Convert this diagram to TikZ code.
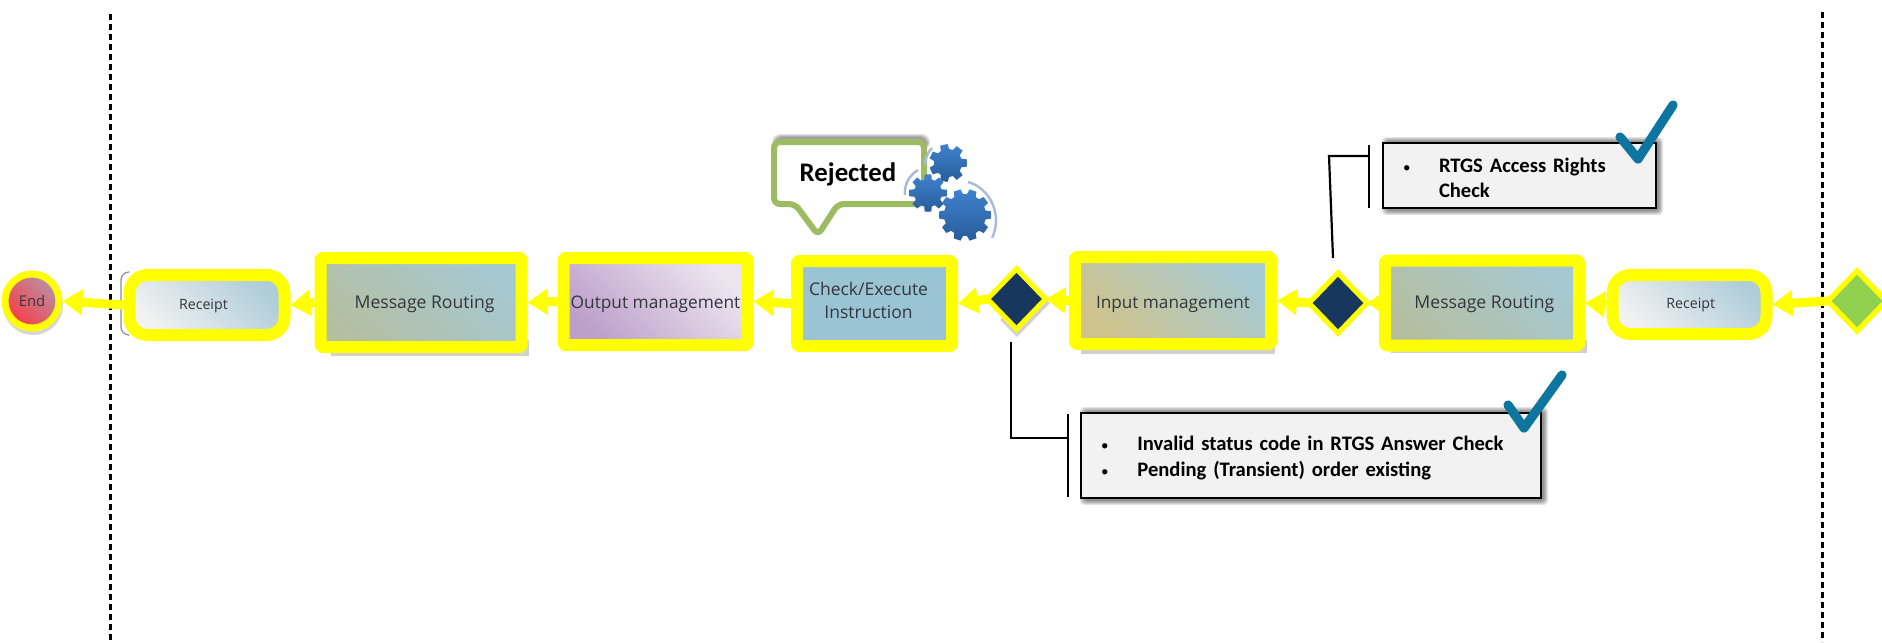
\documentclass[tikz,border=0pt]{standalone}
\usepackage{fontspec}
\setmainfont{Open Sans}
\newfontfamily\carl{Carlito}[BoldFont=Carlito Bold]
\usetikzlibrary{arrows.meta,shapes.geometric,calc}
\definecolor{hl}{rgb}{1,1,0}
\definecolor{labelgrey}{HTML}{33373B}
\definecolor{navy}{HTML}{17375E}
\definecolor{leaf}{HTML}{92D050}
\definecolor{tick}{HTML}{0E74A0}
\definecolor{bubgreen}{HTML}{9DBB61}
\definecolor{rcptA}{HTML}{F2F2F2}\definecolor{rcptB}{HTML}{AECCD9}
\definecolor{msgA}{HTML}{B4BFA2}\definecolor{msgB}{HTML}{A6C8D2}
\definecolor{inpA}{HTML}{CFC38C}\definecolor{inpB}{HTML}{A6CAD4}
\definecolor{outA}{HTML}{BC9FCA}\definecolor{outB}{HTML}{EDE6F0}
\definecolor{chkA}{HTML}{9AC3D3}
\definecolor{endA}{HTML}{FA3C46}\definecolor{endB}{HTML}{B592A6}
\definecolor{gearA}{HTML}{3F82CE}\definecolor{gearB}{HTML}{285C9B}
\definecolor{arcC}{HTML}{A9BAD8}
\tikzset{
  boxbase/.style={rectangle,draw=hl,line width=6pt,line join=round,inner sep=0pt,text=labelgrey,align=center},
  flow/.style={draw=hl,line width=4.5pt,-{Triangle[length=10pt,width=12.5pt]}},
  gate/.style={diamond,aspect=1,draw=hl,line width=2.5pt,inner sep=0pt,minimum width=29pt,minimum height=30pt,outer sep=0pt},
  noteline/.style={draw=black,line width=1.1pt},
  notebox/.style={rectangle,draw=black,line width=1.2pt,fill=black!5,inner xsep=10pt,inner ysep=0pt,align=left,font=\carl\bfseries\fontsize{10.3}{12.75}\selectfont},
  checkmark/.style={draw=tick,line width=4.6pt,line cap=round,line join=round},
  swim/.style={draw=black,line width=1.5pt,dash pattern=on 3.2pt off 1.8pt},
  boxshadow/.style={fill=black!18},
  arcline/.style={draw=arcC,line width=1.2pt}
}
\newcommand{\softbox}[4]{%
  \foreach \d in {1,2,3,4,5}{\fill[black,opacity=.10,rounded corners=2pt] (#1-\d+4,#2-\d-1) rectangle (#3+\d+2,#4+\d+2);}}
\newcommand{\gearshape}[5]{% cx cy R r n
  \shade[top color=gearA,bottom color=gearB,shift={(#1,#2)}] (0:#3)
    \foreach \i in {1,...,#5}{
      -- ({(\i-1)*360/#5+80/#5}:#3) -- ({(\i-1)*360/#5+125/#5}:#4) -- ({(\i-1)*360/#5+235/#5}:#4)
      -- ({(\i-1)*360/#5+280/#5}:#3) } -- cycle;}
\newcommand{\smallbullet}{{\fontsize{7.5}{7.5}\selectfont\mdseries •}}
\newcommand{\lowered}[2]{\raisebox{-#1}[\height][\depth]{#2}}
\begin{document}
\begin{tikzpicture}[x=0.5pt,y=-0.5pt]
\useasboundingbox[fill=white] (0,0) rectangle (1882,642);
% swimlane dividers
\coordinate (dlt) at (110,14); \coordinate (dlb) at (110,642);
\coordinate (drt) at (1822,12); \coordinate (drb) at (1822,642);
\draw[swim] (dlt) -- (dlb);
\draw[swim] (drt) -- (drb);
% flat shadows
\fill[boxshadow] (331,340) rectangle (529,356);
\fill[boxshadow] (1081,340) rectangle (1275,354);
\fill[boxshadow] (1391,340) rectangle (1587,353);
\fill[boxshadow] (1050,303) -- (1017,337) -- (1000,320) -- (1030,290) -- cycle;
\fill[black!16] (33,305) circle (30);
\draw[black!45,line width=.6pt,rounded corners=4pt] (128,272) -- (121,272) -- (121,335) -- (128,335);
% process boxes
\node[boxbase,rounded corners=9pt,minimum width=77pt,minimum height=29.5pt,font=\fontsize{7.1}{8}\selectfont,
  left color=rcptA,right color=rcptB,shading angle=135] (rcptR) at (1689.5,304.5) {\hspace*{1.2pt}Receipt};
\node[boxbase,rounded corners=1pt,minimum width=97pt,minimum height=42.5pt,font=\fontsize{8.8}{10}\selectfont,
  left color=msgA,right color=msgB,shading angle=135] (msgR) at (1482,303) {\hspace*{2.4pt}\lowered{.6pt}{Message Routing}};
\node[boxbase,rounded corners=1pt,minimum width=98pt,minimum height=43.5pt,font=\fontsize{8.6}{10}\selectfont,
  left color=inpA,right color=inpB,shading angle=135] (inp) at (1173,300.5) {\lowered{1.8pt}{Input management}};
\node[boxbase,rounded corners=1pt,minimum width=77.5pt,minimum height=42.5pt,font=\fontsize{8.75}{11.7}\selectfont,
  fill=chkA] (chk) at (874.5,303.5) {Check/Execute\hspace*{6pt}\\Instruction\hspace*{6pt}\rule[-3pt]{0pt}{3pt}};
\node[boxbase,rounded corners=1pt,minimum width=92pt,minimum height=43.5pt,font=\fontsize{8.65}{10}\selectfont,
  left color=outA,right color=outB,shading angle=135] (outp) at (655.5,301.5) {\lowered{1.2pt}{Output management}};
\node[boxbase,rounded corners=1pt,minimum width=100.5pt,minimum height=44.5pt,font=\fontsize{8.8}{10}\selectfont,
  left color=msgA,right color=msgB,shading angle=135] (msgL) at (421,302.5) {\hspace*{3.6pt}\lowered{.6pt}{Message Routing}};
\node[boxbase,rounded corners=9pt,minimum width=77.5pt,minimum height=30pt,font=\fontsize{7.1}{8}\selectfont,
  left color=rcptA,right color=rcptB,shading angle=135] (rcptL) at (207,305) {\lowered{.4pt}{Receipt}\hspace*{3.6pt}};
\node[circle,draw=hl,line width=3.5pt,minimum size=27pt,inner sep=0pt,font=\fontsize{7.4}{8}\selectfont,text=labelgrey,
  left color=endA,right color=endB,shading angle=135] (endN) at (32,301) {End};
% gateways
\node[gate,fill=leaf] (start) at (1857,301) {};
\node[gate,fill=navy] (gw2) at (1338,303) {};
\node[gate,fill=navy] (gw1) at (1016.5,299) {};
% sequence flow
\draw[flow] (start.west) -- (rcptR.east);
\draw[flow] (rcptR.west) -- (msgR.east);
\draw[flow] (msgR.west) -- (gw2.east);
\draw[flow] (gw2.west) -- (inp.east);
\draw[flow] (inp.west) -- (gw1.east);
\draw[flow] (gw1.west) -- (chk.east);
\draw[flow] (chk.west) -- (outp.east);
\draw[flow] (outp.west) -- (msgL.east);
\draw[flow] (msgL.west) -- (rcptL.east);
\draw[flow] (rcptL.west) -- (endN.east);
% redraw gateway fronts so flows stay behind them
\node[gate,fill=leaf] at (1857,301) {};
\node[gate,fill=navy] at (1338,303) {};
\node[gate,fill=navy] at (1016.5,299) {};
% notes
\softbox{1383}{143}{1656}{208}
\softbox{1081}{413}{1541}{498}
\node[notebox,text width=116.5pt,minimum height=32.5pt] (noteA) at (1519.5,175.5)
  {\makebox[18pt][l]{\smallbullet}\rule{0pt}{9.6pt}RTGS Access Rights\\\hspace*{18pt}Check};
\node[notebox,text width=210pt,minimum height=42.5pt] (noteB) at (1311,455.5)
  {\makebox[18.2pt][l]{\smallbullet}\rule{0pt}{9.6pt}Invalid status code in RTGS Answer Check\\\makebox[18.2pt][l]{\smallbullet}Pending (Transient) order existing};
\coordinate (brA1) at (1369,145); \coordinate (brA2) at (1369,208);
\coordinate (brAm) at (1369,156); \coordinate (brAc) at (1329,156);
\coordinate (brAd) at (1333,258);
\draw[noteline] (brA1) -- (brA2);
\draw[noteline] (brAm) -- (brAc) -- (brAd);
\coordinate (brB1) at (1068,414); \coordinate (brB2) at (1068,497);
\coordinate (brBm) at (1068,438); \coordinate (brBc) at (1011,438);
\coordinate (brBd) at (1011,342);
\draw[noteline] (brB1) -- (brB2);
\draw[noteline] (brBm) -- (brBc) -- (brBd);
% check marks
\draw[checkmark] (1620,137) -- (1638,159) -- (1673,105);
\draw[checkmark] (1508,405) -- (1524,428) -- (1562,375);
% rejected bubble
\foreach \d in {1,2,3,4}{\fill[black,opacity=.11,rounded corners=4pt] (776-\d,138-\d) rectangle (926+\d,150);}
\draw[draw=bubgreen,line width=3pt,fill=white,rounded corners=3pt]
  (774,142) -- (924,142) -- (924,204) -- (838,204) -- (818,235) -- (795,204) -- (774,204) -- cycle;
\node[inner sep=0pt,font=\carl\bfseries\fontsize{13.4}{15}\selectfont] (rej) at (848,174) {Rejected};
% gears
\draw[arcline] (968,182) .. controls (990,188) and (1003,215) .. (992,238);
\draw[arcline] (918,170) .. controls (908,176) and (904,186) .. (905,195);
\draw[arcline] (932,148) .. controls (928,152) and (925,158) .. (925,165);
\gearshape{948}{163}{19}{14}{7}
\gearshape{928}{193}{19}{14}{8}
\gearshape{965}{215}{26}{21}{10}
\end{tikzpicture}
\end{document}
